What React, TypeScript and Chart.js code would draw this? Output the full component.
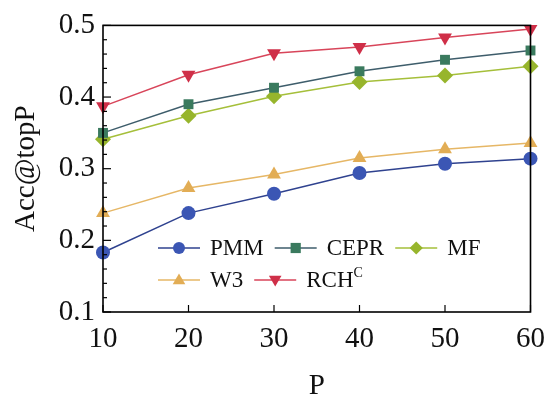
import React, { useEffect, useRef } from "react";
import { Chart, registerables } from "chart.js";

Chart.register(...registerables);

const pValues = [10, 20, 30, 40, 50, 60];
const yTicks = [0.1, 0.2, 0.3, 0.4, 0.5];
const pmm = [0.183, 0.238, 0.265, 0.294, 0.307, 0.314];
const w3 = [0.238, 0.273, 0.292, 0.315, 0.327, 0.336];
const mf = [0.341, 0.374, 0.401, 0.421, 0.430, 0.443];
const cepr = [0.350, 0.390, 0.413, 0.436, 0.452, 0.465];
const rch = [0.387, 0.431, 0.461, 0.470, 0.483, 0.495];

const FONT = "'Liberation Serif', 'Times New Roman', Times, serif";

type Series = {
  label: string;
  sup?: string;
  data: number[];
  line: string;
  fill: string;
  style: string;
  rotation: number;
  radius: number;
};

const series: Series[] = [
  { label: "PMM", data: pmm, line: "#2f428f", fill: "#3b56b4", style: "circle", rotation: 0, radius: 7 },
  { label: "CEPR", data: cepr, line: "#3e5d6b", fill: "#3a7a5e", style: "rect", rotation: 0, radius: 7 },
  { label: "MF", data: mf, line: "#a5bf3a", fill: "#97b52c", style: "rectRot", rotation: 0, radius: 8 },
  { label: "W3", data: w3, line: "#e6b766", fill: "#e2ad55", style: "triangle", rotation: 0, radius: 8 },
  { label: "RCH", sup: "C", data: rch, line: "#d8455a", fill: "#cf2f48", style: "triangle", rotation: 180, radius: 8 },
];

const legendRows = [["PMM", "CEPR", "MF"], ["W3", "RCH"]];

function drawPt(ctx: CanvasRenderingContext2D, style: string, r: number, x: number, y: number, rot: number, color: string) {
  ctx.save();
  ctx.fillStyle = color;
  ctx.translate(x, y);
  ctx.rotate((rot * Math.PI) / 180);
  ctx.beginPath();
  if (style === "circle") {
    ctx.arc(0, 0, r, 0, Math.PI * 2);
  } else if (style === "rect") {
    ctx.rect(-r * 0.85, -r * 0.85, r * 1.7, r * 1.7);
  } else if (style === "rectRot") {
    ctx.moveTo(0, -r * 1.1);
    ctx.lineTo(r * 1.1, 0);
    ctx.lineTo(0, r * 1.1);
    ctx.lineTo(-r * 1.1, 0);
    ctx.closePath();
  } else {
    ctx.moveTo(0, -r * 1.1);
    ctx.lineTo(r * 1.05, r * 0.7);
    ctx.lineTo(-r * 1.05, r * 0.7);
    ctx.closePath();
  }
  ctx.fill();
  ctx.restore();
}

const decorPlugin = {
  id: "decor",
  afterDraw(chart: any) {
    const ctx = chart.ctx as CanvasRenderingContext2D;
    const { left, right, top, bottom } = chart.chartArea;
    const xs = chart.scales.x;
    const ys = chart.scales.y;
    ctx.save();
    ctx.strokeStyle = "#000";
    ctx.lineWidth = 1.6;
    ctx.strokeRect(left, top, right - left, bottom - top);
    ctx.lineWidth = 1.2;
    for (let v = 10; v <= 50; v += 2) {
      const y = ys.getPixelForValue(v / 100);
      const major = v % 10 === 0;
      ctx.beginPath();
      ctx.moveTo(left, y);
      ctx.lineTo(left + (major ? 8 : 4), y);
      ctx.stroke();
    }
    for (const p of pValues) {
      const x = xs.getPixelForValue(p);
      ctx.beginPath();
      ctx.moveTo(x, bottom);
      ctx.lineTo(x, bottom - 7);
      ctx.stroke();
    }
    ctx.fillStyle = "#111";
    ctx.font = `29px ${FONT}`;
    ctx.textAlign = "center";
    ctx.textBaseline = "middle";
    ctx.save();
    ctx.translate(26, (top + bottom) / 2);
    ctx.rotate(-Math.PI / 2);
    ctx.fillText("Acc@topP", 0, 0);
    ctx.restore();
    ctx.fillText("P", (left + right) / 2, 386);

    const rowY = [248, 280];
    const startX = 158;
    legendRows.forEach((row, ri) => {
      let x = startX;
      const y = rowY[ri];
      row.forEach((name) => {
        const s = series.find((q) => q.label === name)!;
        ctx.strokeStyle = s.line;
        ctx.lineWidth = 1.5;
        ctx.beginPath();
        ctx.moveTo(x, y);
        ctx.lineTo(x + 42, y);
        ctx.stroke();
        drawPt(ctx, s.style, 6, x + 21, y, s.rotation, s.fill);
        ctx.fillStyle = "#111";
        ctx.textAlign = "left";
        ctx.textBaseline = "middle";
        ctx.font = `23px ${FONT}`;
        ctx.fillText(s.label, x + 52, y + 1);
        let w = ctx.measureText(s.label).width;
        if (s.sup) {
          ctx.font = `14px ${FONT}`;
          ctx.fillText(s.sup, x + 52 + w, y - 7);
          w += ctx.measureText(s.sup).width;
          ctx.font = `23px ${FONT}`;
        }
        x += 52 + w + 11;
      });
    });
    ctx.restore();
  },
};

export default function App() {
  const ref = useRef<HTMLCanvasElement>(null);
  useEffect(() => {
    document.body.style.margin = "0";
    let chart: Chart | null = null;
    let cancelled = false;
    const build = () => {
      if (cancelled) return;
      const canvas = ref.current!;
      chart = new Chart(canvas, {
        type: "line",
        data: {
          datasets: series.map((s) => ({
            label: s.label,
            data: s.data.map((v, i) => ({ x: pValues[i], y: v })),
            borderColor: s.line,
            backgroundColor: s.fill,
            pointBackgroundColor: s.fill,
            pointBorderColor: s.fill,
            pointBorderWidth: 0,
            pointStyle: s.style as any,
            pointRotation: s.rotation,
            pointRadius: s.radius,
            borderWidth: 1.5,
            tension: 0,
            clip: false as any,
          })),
        },
        options: {
          responsive: false,
          animation: false,
          layout: { padding: { left: 0, right: 18, top: 22, bottom: 0 } },
          plugins: { legend: { display: false }, tooltip: { enabled: false } },
          scales: {
            x: {
              type: "linear",
              min: 10,
              max: 60,
              grid: { display: false, drawTicks: false },
              border: { display: false },
              afterFit: (s: any) => {
                s.height = 88;
              },
              afterBuildTicks: (s: any) => {
                s.ticks = pValues.map((v) => ({ value: v }));
              },
              ticks: {
                padding: 10,
                color: "#111",
                font: { family: FONT, size: 29 },
                callback: (v: any) => String(v),
              },
            },
            y: {
              min: 0.1,
              max: 0.5,
              grid: { display: false, drawTicks: false },
              border: { display: false },
              afterFit: (s: any) => {
                s.width = 103;
              },
              afterBuildTicks: (s: any) => {
                s.ticks = yTicks.map((v) => ({ value: v }));
              },
              ticks: {
                padding: 8,
                color: "#111",
                font: { family: FONT, size: 29 },
                callback: (v: any) => Number(v).toFixed(1),
              },
            },
          },
        },
        plugins: [decorPlugin],
      });
    };
    const fonts: any = (document as any).fonts;
    if (fonts && fonts.load) {
      Promise.all([
        fonts.load(`29px 'Liberation Serif'`),
        fonts.load(`23px 'Liberation Serif'`),
      ]).then(build, build);
    } else {
      build();
    }
    return () => {
      cancelled = true;
      if (chart) chart.destroy();
    };
  }, []);
  return (
    <div style={{ position: "absolute", left: 0, top: 0, width: 555, height: 400, background: "#fff" }}>
      <canvas ref={ref} width={555} height={400} />
    </div>
  );
}
